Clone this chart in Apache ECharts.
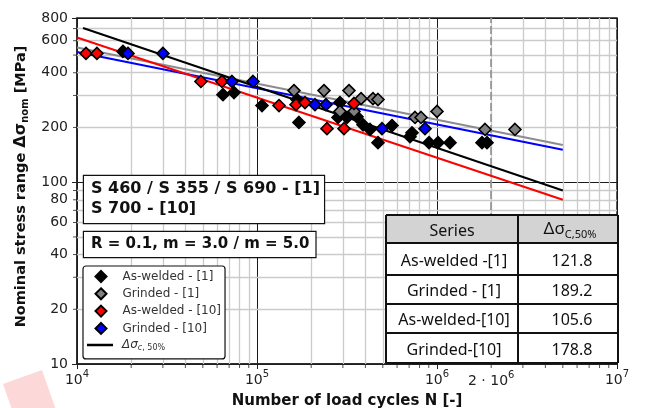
<!DOCTYPE html>
<html>
<head>
<meta charset="utf-8">
<script src="https://cdn.jsdelivr.net/npm/echarts@6/dist/echarts.min.js"></script>
<style>
  html, body { margin: 0; padding: 0; background: #fff; }
  #chart { width: 650px; height: 408px; }
</style>
</head>
<body>
<div id="chart"></div>
<script>
// test points: [load cycles N, stress range in MPa]
const asWelded1 = [
  [18000, 524], [64700, 303], [74500, 311], [106600, 264], [166800, 285], [171000, 213],
  [281800, 227], [289000, 274], [316200, 227], [359400, 229], [388200, 207], [424600, 195],
  [470000, 165], [562300, 205], [707900, 178], [726200, 187], [903000, 165], [1013000, 165],
  [1181000, 165], [1778000, 165], [1896000, 165]
];
const grinded1 = [
  [160500, 319], [235600, 319], [324300, 319], [289000, 245], [345900, 245], [378400, 288],
  [440800, 288], [470000, 285], [754900, 227], [815000, 227], [1000000, 245], [1848000, 195],
  [2711000, 195]
];
const asWelded10 = [
  [11220, 511], [12900, 511], [48800, 358], [63900, 358], [132500, 264], [164700, 267],
  [184800, 274], [244800, 197], [304300, 197], [345900, 271]
];
const grinded10 = [
  [19200, 511], [30000, 511], [72600, 358], [95000, 358], [210000, 267], [241600, 267],
  [494600, 197], [857700, 197]
];

// fitted curves, end points
const curveAsWelded1 = [[10800, 705], [5e6, 90]];
const curveGrinded1 = [[1e4, 550], [5e6, 160]];
const curveAsWelded10 = [[1e4, 625], [5e6, 80]];
const curveGrinded10 = [[1e4, 520], [5e6, 151]];

const tableSeries = ['As-welded -[1]', 'Grinded - [1]', 'As-welded-[10]', 'Grinded-[10]'];
const tableValues = ['121.8', '189.2', '105.6', '178.8'];

// minor grid / tick positions and the extra y labels
const xMinor = [2e4, 3e4, 4e4, 5e4, 6e4, 7e4, 8e4, 9e4,
  2e5, 3e5, 4e5, 5e5, 6e5, 7e5, 8e5, 9e5,
  2e6, 3e6, 4e6, 5e6, 6e6, 7e6, 8e6, 9e6];
const yMinor = [20, 30, 40, 50, 60, 70, 80, 90, 200, 300, 400, 500, 600, 700];
const yLabelValues = [20, 40, 60, 80, 200, 400, 600];
const nRef = 2e6;

const FONT = 'DejaVu Sans';
const TFONT = 'Noto Sans';
const lineName = 'Δσc,50%';
const pointNames = ['As-welded - [1]', 'Grinded - [1]', 'As-welded - [10]', 'Grinded - [10]'];

const chart = echarts.init(document.getElementById('chart'));

function diamonds(name, data, color) {
  return {
    name: name, type: 'scatter', data: data,
    symbol: 'diamond', symbolSize: 12, z: 10,
    itemStyle: { color: color, borderColor: '#000', borderWidth: 1.6, opacity: 1 }
  };
}
function curve(name, data, color) {
  return {
    name: name, type: 'line', data: data, symbol: 'none', z: 6,
    itemStyle: { color: color },
    lineStyle: { color: color, width: 2 }
  };
}

const gridLines = xMinor.map(v => ({ xAxis: v }))
  .concat(yMinor.map(v => {
    const item = { yAxis: v };
    if (yLabelValues.indexOf(v) >= 0) {
      item.label = {
        show: true, position: 'start', distance: 9, formatter: String(v),
        color: '#222', fontSize: 14, fontFamily: FONT
      };
    }
    return item;
  }));
gridLines.push({
  xAxis: nRef,
  lineStyle: { color: '#8a8a8a', type: [8, 3], width: 1.5 },
  label: {
    show: true, position: 'start', distance: 6,
    formatter: '{b|2 · 10}{s|6}',
    rich: {
      b: { fontSize: 14, lineHeight: 22, color: '#222', fontFamily: FONT },
      s: { fontSize: 10, lineHeight: 10, verticalAlign: 'top', color: '#222', fontFamily: FONT }
    }
  }
});

// table on the lower right
const colX = [386, 518, 618];
const rowY = [215, 243, 275, 304, 333, 363];
const tableEls = [
  { type: 'rect', z: 100, shape: { x: colX[0], y: rowY[0], width: colX[2] - colX[0], height: rowY[5] - rowY[0] }, style: { fill: '#fff' } },
  { type: 'rect', z: 100, shape: { x: colX[0], y: rowY[0], width: colX[2] - colX[0], height: rowY[1] - rowY[0] }, style: { fill: '#d3d3d3' } }
];
rowY.forEach(y => tableEls.push({ type: 'line', z: 101, shape: { x1: colX[0], y1: y, x2: colX[2], y2: y }, style: { stroke: '#111', lineWidth: 2 } }));
colX.forEach(x => tableEls.push({ type: 'line', z: 101, shape: { x1: x, y1: rowY[0], x2: x, y2: rowY[5] }, style: { stroke: '#111', lineWidth: 2 } }));
tableEls.push({ type: 'text', z: 102, x: (colX[0] + colX[1]) / 2, y: (rowY[0] + rowY[1]) / 2 + 2,
  style: { text: 'Series', fontSize: 16, fontFamily: TFONT, fill: '#111', align: 'center', verticalAlign: 'middle' } });
tableEls.push({ type: 'text', z: 102, x: (colX[1] + colX[2]) / 2 + 2, y: (rowY[0] + rowY[1]) / 2,
  style: {
    text: '{a|Δσ}{b|C,50%}', align: 'center', verticalAlign: 'middle',
    rich: {
      a: { fontSize: 17, lineHeight: 22, fontFamily: TFONT, fill: '#111' },
      b: { fontSize: 11, lineHeight: 11, verticalAlign: 'bottom', fontFamily: TFONT, fill: '#111' }
    }
  } });
tableSeries.forEach((s, i) => {
  const cy = (rowY[i + 1] + rowY[i + 2]) / 2 + 2;
  tableEls.push({ type: 'text', z: 102, x: (colX[0] + colX[1]) / 2 + 2, y: cy,
    style: { text: s, fontSize: 16, fontFamily: TFONT, fill: '#111', align: 'center', verticalAlign: 'middle' } });
  tableEls.push({ type: 'text', z: 102, x: (colX[1] + colX[2]) / 2 + 4, y: cy,
    style: { text: tableValues[i], fontSize: 16, fontFamily: TFONT, fill: '#111', align: 'center', verticalAlign: 'middle' } });
});

const legendText = { fontSize: 12, fontFamily: FONT, color: '#333' };

chart.setOption({
  animation: false,
  grid: {
    left: 77, right: 33, top: 18, bottom: 44, outerBoundsMode: 'none',
    show: true, borderColor: '#222', borderWidth: 1.5
  },
  legend: [
    {
      data: pointNames,
      orient: 'vertical', left: 83, top: 266,
      itemWidth: 11, itemHeight: 11, itemGap: 4.3,
      padding: [4, 4, 24, 11.5],
      backgroundColor: '#fff', borderColor: '#111', borderWidth: 1.2, borderRadius: 3,
      selectedMode: false, z: 100,
      textStyle: Object.assign({ lineHeight: 11, rich: { n: Object.assign({ padding: [0, 0, 0, 11], lineHeight: 11 }, legendText) } }, legendText),
      formatter: name => '{n|' + name + '}'
    },
    {
      data: [{ name: lineName, icon: 'rect' }],
      orient: 'vertical', left: 87, top: 338,
      itemWidth: 26, itemHeight: 2.5, padding: 0,
      selectedMode: false, z: 101,
      textStyle: Object.assign({
        lineHeight: 14,
        rich: {
          i: Object.assign({}, legendText, { fontStyle: 'italic', lineHeight: 14, padding: [0, 0, 0, 4] }),
          si: Object.assign({}, legendText, { fontSize: 8, fontStyle: 'italic', lineHeight: 8, verticalAlign: 'bottom' }),
          s: Object.assign({}, legendText, { fontSize: 8, lineHeight: 8, verticalAlign: 'bottom' })
        }
      }, legendText),
      formatter: () => '{i|Δσ}{si|c}{s|, 50%}'
    }
  ],
  xAxis: {
    type: 'log', logBase: 10, min: 1e4, max: 1e7,
    name: 'Number of load cycles N [-]', nameLocation: 'middle', nameGap: 30,
    nameTextStyle: { fontSize: 15, fontWeight: 'bold', fontFamily: FONT, color: '#111' },
    axisLine: { show: true, lineStyle: { color: '#222', width: 1.5 } },
    axisTick: { show: true, length: 5, lineStyle: { color: '#222' } },
    axisLabel: {
      margin: 5,
      formatter: v => '{b|10}{s|' + Math.round(Math.log10(v)) + '}',
      rich: {
        b: { fontSize: 14, lineHeight: 22, color: '#222', fontFamily: FONT },
        s: { fontSize: 10, lineHeight: 10, verticalAlign: 'top', color: '#222', fontFamily: FONT }
      }
    },
    splitLine: { show: true, lineStyle: { color: '#1a1a1a', width: 1 } }
  },
  yAxis: {
    type: 'log', logBase: 10, min: 10, max: 800,
    name: '{t|Nominal stress range }{d|Δσ}{s|nom}{t| [MPa]}', nameLocation: 'middle', nameGap: 41,
    nameTextStyle: {
      padding: [0, 0, 0, 9],
      rich: {
        t: { fontSize: 14.5, fontWeight: 'bold', fontFamily: FONT, color: '#111', lineHeight: 19 },
        d: { fontSize: 16, fontWeight: 'bold', fontFamily: FONT, color: '#111', lineHeight: 19 },
        s: { fontSize: 10, fontWeight: 'bold', fontFamily: FONT, color: '#111', lineHeight: 10, verticalAlign: 'bottom' }
      }
    },
    axisLine: { show: true, lineStyle: { color: '#222', width: 1.5 } },
    axisTick: { show: true, length: 5, lineStyle: { color: '#222' } },
    axisLabel: { margin: 9, fontSize: 14, fontFamily: FONT, color: '#222', formatter: v => String(Math.round(v)) },
    splitLine: { show: true, lineStyle: { color: '#1a1a1a', width: 1 } }
  },
  graphic: [
    { type: 'polygon', z: 0, shape: { points: [[3, 384], [42, 370], [56, 410], [17, 424]] }, style: { fill: '#fdd8d8' } },
    { type: 'text', z: 100, x: 84, y: 176,
      style: {
        text: 'S 460 / S 355 / S 690 - [1]\nS 700 - [10]', fontSize: 16, fontWeight: 'bold', fontFamily: FONT,
        fill: '#111', lineHeight: 20, backgroundColor: '#fff', borderColor: '#111', borderWidth: 1.2,
        padding: [3, 4, 4, 7]
      } },
    { type: 'text', z: 100, x: 84, y: 232,
      style: {
        text: 'R = 0.1, m = 3.0 / m = 5.0', fontSize: 15, fontWeight: 'bold', fontFamily: FONT,
        fill: '#111', lineHeight: 19, backgroundColor: '#fff', borderColor: '#111', borderWidth: 1.2,
        padding: [3, 6, 3, 7]
      } }
  ].concat(tableEls),
  series: [
    {
      name: 'grid', type: 'line', data: [], silent: true,
      markLine: {
        silent: true, symbol: 'none', animation: false, z: 1,
        lineStyle: { color: '#cbcbcb', width: 1.3, type: 'solid' },
        label: { show: false },
        emphasis: { disabled: true },
        data: gridLines
      }
    },
    {
      name: 'yticks', type: 'scatter', silent: true, clip: false, z: 3,
      data: yMinor.map(v => [1e4, v]),
      symbol: 'rect', symbolSize: [4, 1], symbolOffset: [-2, 0], itemStyle: { color: '#222' }
    },
    {
      name: 'xticks', type: 'scatter', silent: true, clip: false, z: 3,
      data: xMinor.map(v => [v, 10]),
      symbol: 'rect', symbolSize: [1, 4], symbolOffset: [0, 2], itemStyle: { color: '#222' }
    },
    curve('fit-g1', curveGrinded1, '#8c8c8c'),
    curve('fit-b10', curveGrinded10, '#0000ff'),
    curve('fit-r10', curveAsWelded10, '#ff0000'),
    curve(lineName, curveAsWelded1, '#000'),
    diamonds(pointNames[0], asWelded1, '#000'),
    diamonds(pointNames[1], grinded1, '#808080'),
    diamonds(pointNames[2], asWelded10, '#ff0000'),
    diamonds(pointNames[3], grinded10, '#0000ff')
  ]
});
</script>
</body>
</html>
